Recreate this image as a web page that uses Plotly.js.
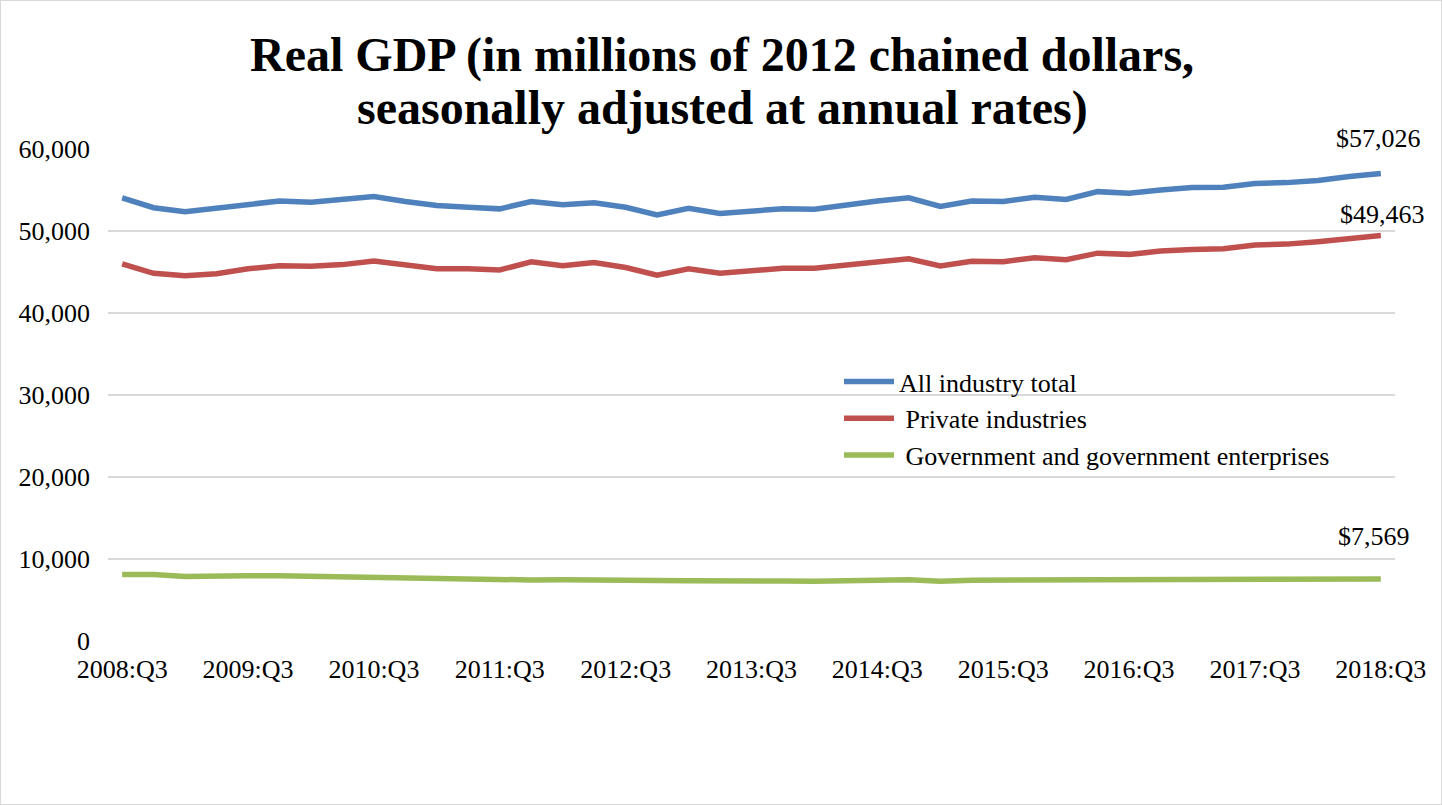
<!DOCTYPE html>
<html>
<head>
<meta charset="utf-8">
<script src="https://cdn.plot.ly/plotly-3.0.1.min.js"></script>
<style>
  html, body { margin: 0; padding: 0; background: #fff; }
  #chart { width: 1442px; height: 805px; box-sizing: border-box; border: 1px solid #d9d9d9; }
</style>
</head>
<body>
<div id="chart"></div>
<script>
const quarters = [
  "2008:Q3","2008:Q4","2009:Q1","2009:Q2","2009:Q3","2009:Q4","2010:Q1","2010:Q2","2010:Q3","2010:Q4",
  "2011:Q1","2011:Q2","2011:Q3","2011:Q4","2012:Q1","2012:Q2","2012:Q3","2012:Q4","2013:Q1","2013:Q2",
  "2013:Q3","2013:Q4","2014:Q1","2014:Q2","2014:Q3","2014:Q4","2015:Q1","2015:Q2","2015:Q3","2015:Q4",
  "2016:Q1","2016:Q2","2016:Q3","2016:Q4","2017:Q1","2017:Q2","2017:Q3","2017:Q4","2018:Q1","2018:Q2","2018:Q3"
];
const tickLabels = ["2008:Q3","2009:Q3","2010:Q3","2011:Q3","2012:Q3","2013:Q3","2014:Q3","2015:Q3","2016:Q3","2017:Q3","2018:Q3"];

const allIndustry = [54050, 52840, 52350, 52800, 53300, 53660, 53500, 53860, 54200, 53600,
  53100, 52900, 52700, 53600, 53200, 53450, 52900, 51950, 52760, 52150,
  52360, 52700, 52650, 53200, 53650, 54050, 53000, 53660, 53600, 54100,
  53850, 54800, 54600, 55000, 55300, 55350, 55800, 55900, 56150, 56650, 57026];
const privateInd = [46000, 44840, 44550, 44800, 45400, 45750, 45700, 45900, 46350, 45900,
  45400, 45400, 45250, 46250, 45750, 46150, 45550, 44600, 45400, 44850,
  45200, 45450, 45450, 45850, 46250, 46600, 45750, 46300, 46250, 46750,
  46500, 47300, 47150, 47550, 47750, 47850, 48300, 48400, 48700, 49150, 49463];
const government = [8100, 8100, 7880, 7980, 7960, 7950, 7870, 7950, 7830, 7720,
  7700, 7520, 7470, 7440, 7470, 7400, 7380, 7370, 7360, 7300,
  7240, 7320, 7290, 7420, 7400, 7470, 7280, 7420, 7430, 7440,
  7420, 7480, 7490, 7460, 7540, 7500, 7520, 7500, 7540, 7550, 7569];

const seriesNames = ["All industry total", "\u00a0Private industries", "\u00a0Government and government enterprises"];
const seriesColors = ["#4F81BD", "#C0504D", "#9BBB59"];
const endLabels = ["$57,026", "$49,463", "$7,569"];
const titleLines = ["Real GDP (in millions of 2012 chained dollars,", "seasonally adjusted at annual rates)"];

const serif = "'Liberation Serif', 'Times New Roman', serif";

const data = [allIndustry, privateInd, government].map((vals, i) => ({
  type: "scatter",
  mode: "lines",
  x: quarters,
  y: vals,
  name: seriesNames[i],
  line: { color: seriesColors[i], width: 5.5 },
  hoverinfo: "x+y+name"
}));

const yShifts = [18, 4, 26];
const xShifts = [-2, 2, -7];
const annotations = [allIndustry, privateInd, government].map((vals, i) => ({
  x: quarters[quarters.length - 1],
  y: vals[vals.length - 1],
  xref: "x", yref: "y",
  text: endLabels[i],
  showarrow: false,
  xanchor: "center",
  yanchor: "bottom",
  xshift: xShifts[i],
  yshift: yShifts[i],
  font: { family: serif, size: 26, color: "#000" }
}));

const titleY = [1.191, 1.083];
titleLines.forEach((t, i) => {
  annotations.push({
    xref: "paper", yref: "paper",
    x: 0.4772, y: titleY[i],
    xanchor: "center", yanchor: "middle",
    text: "<b>" + t + "</b>",
    showarrow: false,
    font: { family: serif, size: 48, color: "#000" }
  });
});

const layout = {
  width: 1440,
  height: 803,
  paper_bgcolor: "#ffffff",
  plot_bgcolor: "#ffffff",
  margin: { l: 107, r: 46, t: 148, b: 163 },
  xaxis: {
    type: "category",
    range: [-0.45, 40.45],
    tickmode: "array",
    tickvals: tickLabels,
    ticktext: tickLabels,
    showgrid: false,
    zeroline: false,
    showline: false,
    ticks: "",
    tickfont: { family: serif, size: 26, color: "#000" },
    ticklabelstandoff: 10
  },
  yaxis: {
    range: [0, 60000],
    tickvals: [0, 10000, 20000, 30000, 40000, 50000, 60000],
    ticktext: ["0", "10,000", "20,000", "30,000", "40,000", "50,000", "60,000"],
    showgrid: true,
    gridcolor: "#d9d9d9",
    gridwidth: 1.5,
    zeroline: false,
    showline: false,
    ticks: "",
    tickfont: { family: serif, size: 26, color: "#000" },
    ticklabelstandoff: 17
  },
  legend: {
    x: 0.568, xanchor: "left",
    y: 0.575, yanchor: "top",
    bgcolor: "rgba(0,0,0,0)",
    font: { family: serif, size: 26, color: "#000" },
    tracegroupgap: 0,
    itemwidth: 50
  },
  annotations: annotations,
  showlegend: true
};

Plotly.newPlot("chart", data, layout, { displayModeBar: false });
</script>
</body>
</html>
